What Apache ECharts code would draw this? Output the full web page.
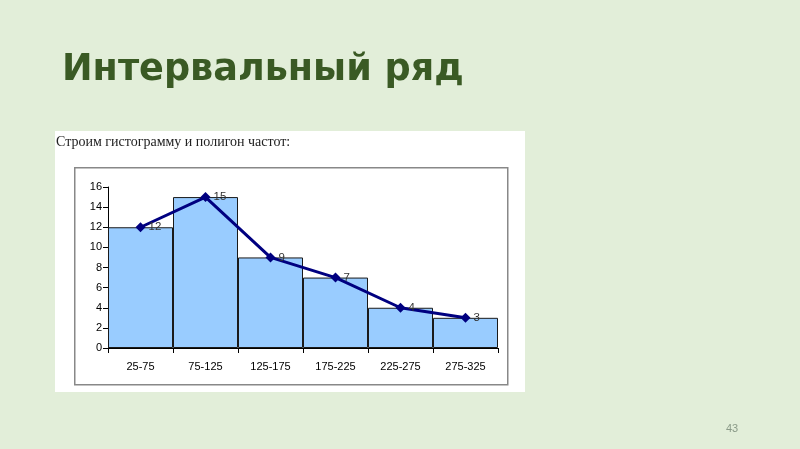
<!DOCTYPE html>
<html style="height: 100%">
<head>
<meta charset="utf-8">
</head>
<body style="height: 100%; margin: 0; background: #e2eed9">
<div id="container" style="width: 800px; height: 449px"></div>
<script src="https://cdn.jsdelivr.net/npm/echarts@6/dist/echarts.min.js"></script>
<script type="text/javascript">
		var categories = ['25-75', '75-125', '125-175', '175-225', '225-275', '275-325'];
		var frequencies = [12, 15, 9, 7, 4, 3];
		var yTicks = { min: 0, max: 16, interval: 2 };

		var chart = echarts.init(document.getElementById('container'));
		var option = {
			backgroundColor: '#e2eed9',
			animation: false,
			title: {
				text: 'Интервальный ряд',
				left: 57,
				top: 47,
				textStyle: {
					fontFamily: 'DejaVu Sans',
					fontWeight: 'bold',
					fontSize: 36.6,
					color: '#3a5a24'
				}
			},
			graphic: [
				{
					type: 'rect', left: 55, top: 131, z: -10,
					shape: { width: 470, height: 261 },
					style: { fill: '#ffffff' }
				},
				{
					type: 'rect', left: 74, top: 167, z: -9,
					shape: { width: 433, height: 217 },
					style: { fill: '#ffffff', stroke: '#888888', lineWidth: 1.5 }
				},
				{
					type: 'text', left: 56, top: 135,
					style: { text: 'Строим гистограмму и полигон частот:', font: '14px "Liberation Serif"', fill: '#222' }
				},
				{
					type: 'text', left: 726, top: 423,
					style: { text: '43', font: '11px "Liberation Sans"', fill: '#8a9a88' }
				}
			],
			grid: {
				left: 108,
				right: 302,
				top: 187,
				bottom: 101
			},
			xAxis: {
				type: 'category',
				data: categories,
				boundaryGap: true,
				axisLine: { lineStyle: { color: '#000', width: 1 } },
				axisTick: { show: true, alignWithLabel: false, length: 5, lineStyle: { color: '#000' } },
				axisLabel: { fontFamily: 'Liberation Sans', fontSize: 11, color: '#000', margin: 13 },
				splitLine: { show: false }
			},
			yAxis: {
				type: 'value',
				min: yTicks.min,
				max: yTicks.max,
				interval: yTicks.interval,
				axisLine: { show: true, lineStyle: { color: '#000', width: 1 } },
				axisTick: { show: true, length: 5, lineStyle: { color: '#000' } },
				axisLabel: { fontFamily: 'Liberation Sans', fontSize: 11, color: '#000', margin: 6 },
				splitLine: { show: false }
			},
			series: [
				{
					type: 'bar',
					data: frequencies,
					barWidth: '100%',
					barGap: '-100%',
					itemStyle: { color: '#99ccff', borderColor: '#1a1a1a', borderWidth: 1 }
				},
				{
					type: 'line',
					data: frequencies,
					symbol: 'diamond',
					symbolSize: 10,
					lineStyle: { color: '#000080', width: 3 },
					itemStyle: { color: '#000080' },
					label: {
						show: true,
						position: 'right',
						distance: 3,
						fontFamily: 'Liberation Sans',
						fontSize: 11.5,
						color: '#333'
					}
				}
			]
		};
		chart.setOption(option);
</script>
</body>
</html>
